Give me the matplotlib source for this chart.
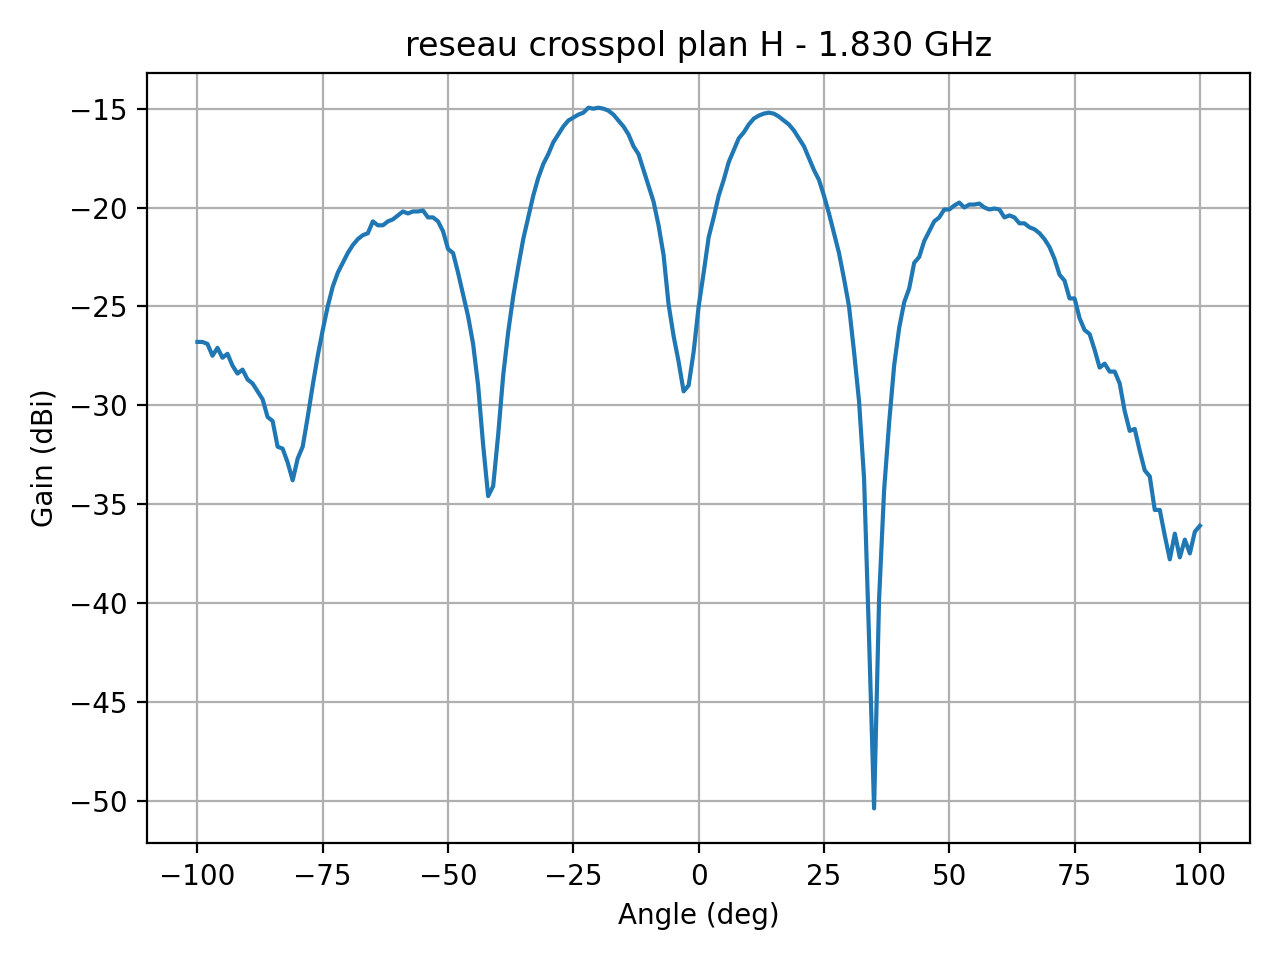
import numpy as np
import matplotlib
matplotlib.use("Agg")
import matplotlib.pyplot as plt

angles = list(range(-100, 101))
gain = [
-26.8,-26.8,-26.9,-27.5,-27.1,-27.6,-27.4,-28.0,-28.4,-28.2,
-28.7,-28.9,-29.3,-29.7,-30.6,-30.8,-32.1,-32.2,-32.9,-33.8,
-32.7,-32.1,-30.6,-29.0,-27.5,-26.2,-25.0,-24.0,-23.3,-22.8,
-22.3,-21.9,-21.6,-21.4,-21.3,-20.7,-20.9,-20.9,-20.7,-20.6,
-20.4,-20.2,-20.3,-20.2,-20.2,-20.15,-20.5,-20.5,-20.7,-21.2,
-22.1,-22.3,-23.3,-24.4,-25.5,-26.9,-29.0,-32.0,-34.6,-34.1,
-31.5,-28.5,-26.3,-24.5,-23.0,-21.6,-20.5,-19.4,-18.5,-17.8,
-17.3,-16.7,-16.3,-15.9,-15.6,-15.45,-15.3,-15.2,-14.95,-15.0,
-14.95,-15.0,-15.1,-15.3,-15.6,-15.9,-16.3,-16.9,-17.3,-18.1,
-18.9,-19.7,-20.9,-22.4,-24.9,-26.5,-27.8,-29.3,-29.0,-27.3,
-25.0,-23.3,-21.5,-20.5,-19.4,-18.6,-17.7,-17.1,-16.5,-16.2,
-15.8,-15.5,-15.35,-15.25,-15.2,-15.25,-15.4,-15.6,-15.8,-16.1,
-16.5,-16.9,-17.5,-18.1,-18.6,-19.4,-20.3,-21.3,-22.3,-23.6,
-25.0,-27.3,-29.8,-33.7,-41.8,-50.4,-39.8,-34.3,-30.9,-28.0,
-26.1,-24.8,-24.1,-22.8,-22.5,-21.7,-21.2,-20.7,-20.5,-20.1,
-20.1,-19.9,-19.75,-20.0,-19.85,-19.85,-19.8,-20.0,-20.1,-20.05,
-20.1,-20.5,-20.4,-20.5,-20.8,-20.8,-21.0,-21.1,-21.3,-21.6,
-22.0,-22.6,-23.4,-23.7,-24.6,-24.6,-25.6,-26.2,-26.4,-27.2,
-28.1,-27.9,-28.3,-28.3,-28.9,-30.3,-31.3,-31.2,-32.3,-33.3,
-33.6,-35.3,-35.3,-36.6,-37.8,-36.5,-37.7,-36.8,-37.5,-36.4,
-36.1]

fig, ax = plt.subplots(figsize=(6.4, 4.8), dpi=200)
ax.plot(angles, gain)
ax.set_title("reseau crosspol plan H - 1.830 GHz")
ax.set_xlabel("Angle (deg)")
ax.set_ylabel("Gain (dBi)")
ax.grid(True)
fig.tight_layout()
fig.savefig("out.png")
